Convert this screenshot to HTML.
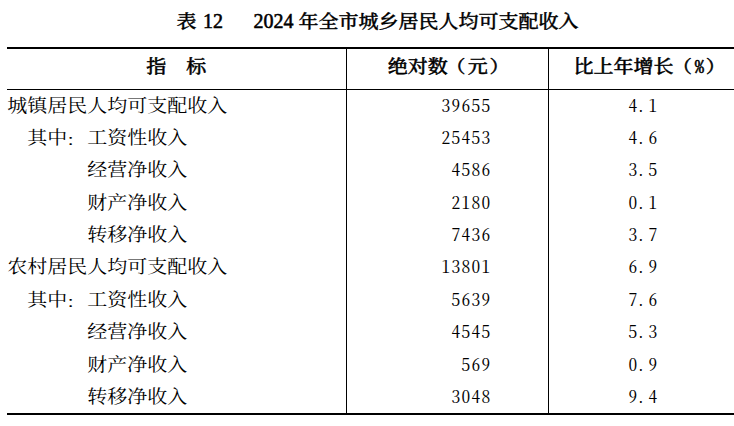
<!DOCTYPE html>
<html lang="zh-CN">
<head>
<meta charset="utf-8">
<title>表 12 2024 年全市城乡居民人均可支配收入</title>
<style>
  html, body { margin: 0; padding: 0; background: #fff; }
  body {
    width: 734px; height: 426px; position: relative; overflow: hidden;
    font-family: "Liberation Serif", "Noto Serif CJK SC", serif;
    color: #000;
  }
  .abs { position: absolute; white-space: pre; }
  .rule { position: absolute; background: #000; }
  .hw { font-feature-settings: "hwid"; font-size: 17.4px; letter-spacing: 1.3px; }

  /* title */
  .title {
    left: 0; width: 734px; top: 8.2px; height: 28px; line-height: 28px;
    font-size: 20px; font-weight: 500; -webkit-text-stroke: 0.4px #000;
    transform: scaleY(0.91); transform-origin: 50% 50%;
  }
  .title span { position: absolute; top: 0; }
  .title em { font-style: normal; font-weight: 400; -webkit-text-stroke: 0.55px #000; position: relative; top: -0.25px; display: inline-block; transform: scaleY(1.12); transform-origin: 50% 75%; }

  /* header */
  .th {
    top: 48px; height: 36px; line-height: 36px;
    font-size: 20px; font-weight: 500; -webkit-text-stroke: 0.5px #000;
    transform: scaleY(0.91); transform-origin: 50% 50%;
    font-family: "Noto Serif CJK SC", "Liberation Serif", serif;
  }

  .th span { position: relative; }
  .th .pl, .th .pr, .th .par { display: inline-block; transform: scaleY(0.95); transform-origin: 50% 40%; }
  .th .pl { left: -1.6px; }
  .th .pc { left: 1.2px; font-feature-settings: "hwid"; font-size: 18.6px; margin-right: 0.7px; -webkit-text-stroke: 0.55px #000; }
  .th .pr { left: 2.2px; }

  /* body rows */
  .row { left: 0; width: 734px; height: 32px; font-size: 20px; line-height: 32px;
    font-family: "Noto Serif CJK SC", "Liberation Serif", serif; }
  .row span { position: absolute; top: 0; white-space: pre; }
  .row span.hw { top: 0px; }
  .row .lab, .row .lab2, .row .lab3 { transform: scaleY(0.92); transform-origin: 50% 50%; }
  .cl { font-weight: inherit; display: inline-block; transform: translate(-1.2px, 2.6px) scaleY(0.8); }
  .lab  { left: 7.3px; }
  .lab2 { left: 27.3px; }
  .lab3 { left: 87.3px; }
  .num  { right: 242.5px; text-align: right; }
  .pct  { left: 628.5px; }
  .pct i { font-style: normal; position: relative; left: -2px; }
</style>
</head>
<body>

<div class="abs title">
  <span style="left:176.6px">表 <em style="left:1.3px">12</em></span>
  <span style="left:253.4px"><em>2024</em> 年全市城乡居民人均可支配收入</span>
</div>

<!-- rules -->
<div class="rule" style="left:7px; top:47px; width:727px; height:2px;"></div>
<div class="rule" style="left:7px; top:89px; width:727px; height:1px;"></div>
<div class="rule" style="left:7px; top:413px; width:727px; height:2px;"></div>
<div class="rule" style="left:346px; top:47px; width:1px; height:367px;"></div>
<div class="rule" style="left:548px; top:47px; width:1px; height:367px;"></div>

<!-- header cells -->
<div class="abs th" style="left:146.3px;">指</div>
<div class="abs th" style="left:186.3px;">标</div>
<div class="abs th" style="left:387.8px;">绝对数<span class="par" style="left:-2.4px">（</span>元<span class="par" style="left:1.6px">）</span></div>
<div class="abs th" style="left:573.6px;">比上年增长<span class="pl">（</span><span class="pc">%</span><span class="pr">）</span></div>

<!-- body -->
<div class="abs row" style="top:89px"><span class="lab">城镇居民人均可支配收入</span><span class="num hw">39655</span><span class="pct hw">4<i>.</i>1</span></div>
<div class="abs row" style="top:121px"><span class="lab2">其中<b class="cl">：</b>工资性收入</span><span class="num hw">25453</span><span class="pct hw">4<i>.</i>6</span></div>
<div class="abs row" style="top:153px"><span class="lab3">经营净收入</span><span class="num hw">4586</span><span class="pct hw">3<i>.</i>5</span></div>
<div class="abs row" style="top:186px"><span class="lab3">财产净收入</span><span class="num hw">2180</span><span class="pct hw">0<i>.</i>1</span></div>
<div class="abs row" style="top:218px"><span class="lab3">转移净收入</span><span class="num hw">7436</span><span class="pct hw">3<i>.</i>7</span></div>
<div class="abs row" style="top:250px"><span class="lab">农村居民人均可支配收入</span><span class="num hw">13801</span><span class="pct hw">6<i>.</i>9</span></div>
<div class="abs row" style="top:283px"><span class="lab2">其中<b class="cl">：</b>工资性收入</span><span class="num hw">5639</span><span class="pct hw">7<i>.</i>6</span></div>
<div class="abs row" style="top:315px"><span class="lab3">经营净收入</span><span class="num hw">4545</span><span class="pct hw">5<i>.</i>3</span></div>
<div class="abs row" style="top:348px"><span class="lab3">财产净收入</span><span class="num hw">569</span><span class="pct hw">0<i>.</i>9</span></div>
<div class="abs row" style="top:380px"><span class="lab3">转移净收入</span><span class="num hw">3048</span><span class="pct hw">9<i>.</i>4</span></div>

</body>
</html>
